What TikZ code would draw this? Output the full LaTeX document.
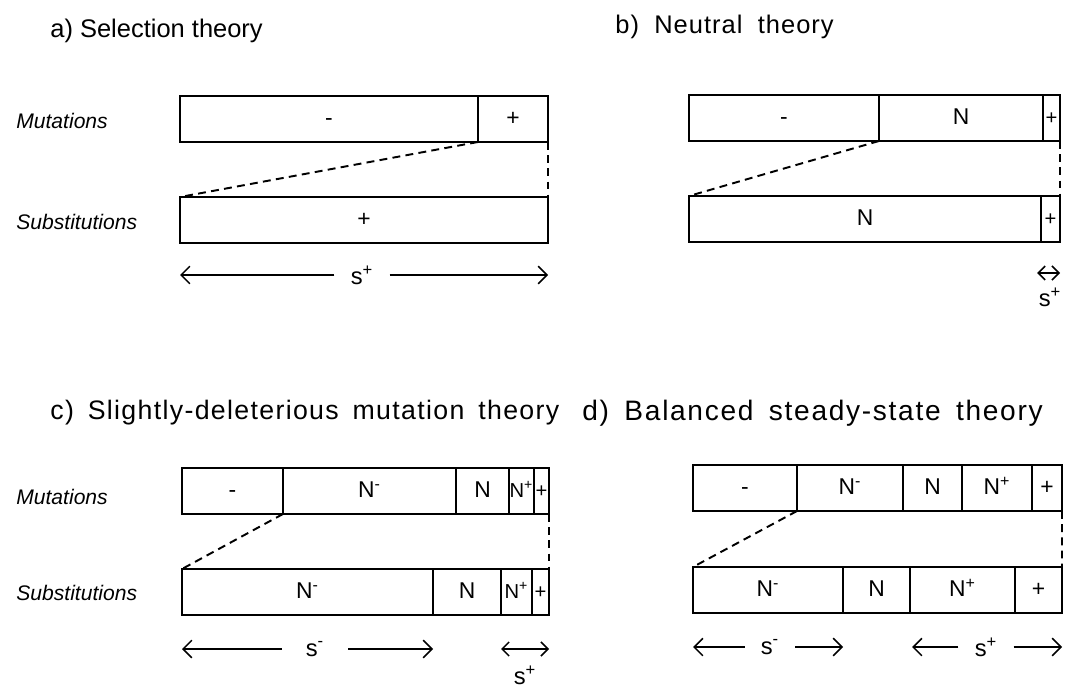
\documentclass[tikz,border=0pt]{standalone}
\usepackage{fontspec}
\setmainfont{Liberation Sans}
\usetikzlibrary{arrows.meta}

\tikzset{
  barbox/.style={draw, line width=1pt, inner sep=0pt, outer sep=0pt, anchor=north west,
    minimum height=0.92cm, text height=0.72em, text depth=0pt, font=\fontsize{13}{15}\selectfont},
  narrow/.style={font=\fontsize{11.5}{13}\selectfont},
  paneltitle/.style={anchor=west, inner sep=0pt, font=\fontsize{14.5}{17}\selectfont},
  rowlabel/.style={anchor=west, inner sep=0pt, font=\itshape\fontsize{12}{14}\selectfont},
  dashlink/.style={line width=1.1pt, dash pattern=on 4.5pt off 3pt},
  spanarrow/.style={line width=0.9pt, -{Straight Barb[length=5pt,width=10pt]}},
  twoway/.style={line width=0.9pt, {Straight Barb[length=4pt,width=8pt]}-{Straight Barb[length=4pt,width=8pt]}},
  slabel/.style={inner xsep=0.32cm, inner ysep=0pt, font=\fontsize{13.5}{15}\selectfont}
}
% one box of a bar: name, left x, right x, top y, text
\newcommand{\barseg}[6][]{\node[barbox, minimum width={(#4-#3)*0.02cm}, #1] (#2) at (#3,#5) {#6};}
\newcommand{\Nm}{N\textsuperscript{-}}
\newcommand{\Np}{N\textsuperscript{+}}
% wider tracking and word gaps for the titles
\newcommand{\spread}[2]{\addfontfeature{LetterSpace=#1}\spaceskip=#2\relax}

\begin{document}
\begin{tikzpicture}[x=0.02cm, y=-0.02cm]
  \useasboundingbox (0,0) rectangle (1068,689);
  % row labels
  \node[rowlabel] (mut-ab) at (16,121) {Mutations};
  \node[rowlabel] (sub-ab) at (16,222) {Substitutions};
  \node[rowlabel] (mut-cd) at (16,497) {Mutations};
  \node[rowlabel] (sub-cd) at (16,593) {Substitutions};

  % a) selection
  \node[paneltitle] (a-title) at (50,31) {a) Selection theory};
  \barseg{a-m1}{180}{478}{96}{-}
  \barseg{a-m2}{478}{548}{96}{+}
  \barseg{a-s1}{180}{548}{197}{+}
  \draw[dashlink] (a-m1.south east) -- (a-s1.north west);
  \draw[dashlink] (a-m2.south east) -- (a-s1.north east);
  \node[slabel] (a-s) at (362,275) {s\textsuperscript{+}};
  \coordinate (a-l) at (180,275);
  \coordinate (a-r) at (548,275);
  \draw[spanarrow] (a-s) -- (a-l);
  \draw[spanarrow] (a-s) -- (a-r);

  % b) neutral
  \node[paneltitle, font={\fontsize{14.5}{17}\selectfont\spread{4}{0.6em}}] (b-title) at (615,27) {b) Neutral theory};
  \barseg{b-m1}{689}{879}{95}{-}
  \barseg{b-m2}{879}{1043}{95}{N}
  \barseg[narrow]{b-m3}{1043}{1060}{95}{+}
  \barseg{b-s1}{689}{1041}{196}{N}
  \barseg[narrow]{b-s2}{1041}{1060}{196}{+}
  \draw[dashlink] (b-m1.south east) -- (b-s1.north west);
  \draw[dashlink] (b-m3.south east) -- (b-s2.north east);
  \coordinate (b-l) at (1037,273);
  \coordinate (b-r) at (1060,273);
  \draw[twoway] (b-l) -- (b-r);
  \node[slabel, inner xsep=0pt] (b-s) at (1050,297) {s\textsuperscript{+}};

  % c) slightly-deleterious
  \node[paneltitle, font={\fontsize{15.2}{18}\selectfont\spread{5}{0.52em}}] (c-title) at (50,413) {c) Slightly-deleterious mutation theory};
  \barseg{c-m1}{182}{283}{468}{-}
  \barseg{c-m2}{283}{456}{468}{\Nm}
  \barseg{c-m3}{456}{509}{468}{N}
  \barseg[narrow]{c-m4}{509}{534}{468}{\Np}
  \barseg[narrow]{c-m5}{534}{549}{468}{+}
  \barseg{c-s1}{182}{433}{569}{\Nm}
  \barseg{c-s2}{433}{501}{569}{N}
  \barseg[narrow]{c-s3}{501}{532}{569}{\Np}
  \barseg[narrow]{c-s4}{532}{549}{569}{+}
  \draw[dashlink] (c-m1.south east) -- (c-s1.north west);
  \draw[dashlink] (c-m5.south east) -- (c-s4.north east);
  \node[slabel, inner xsep=0.48cm] (c-sm) at (315,649) {s\textsuperscript{-}};
  \coordinate (c-l) at (182,649);
  \coordinate (c-r) at (433,649);
  \draw[spanarrow] (c-sm) -- (c-l);
  \draw[spanarrow] (c-sm) -- (c-r);
  \coordinate (c-pl) at (501,649);
  \coordinate (c-pr) at (549,649);
  \draw[twoway] (c-pl) -- (c-pr);
  \node[slabel, inner xsep=0pt] (c-sp) at (525,675) {s\textsuperscript{+}};

  % d) balanced steady-state
  \node[paneltitle, font={\fontsize{16}{19}\selectfont\spread{6}{0.55em}}] (d-title) at (582,413) {d) Balanced steady-state theory};
  \barseg{d-m1}{693}{797}{465}{-}
  \barseg{d-m2}{797}{903}{465}{\Nm}
  \barseg{d-m3}{903}{962}{465}{N}
  \barseg{d-m4}{962}{1032}{465}{\Np}
  \barseg{d-m5}{1032}{1062}{465}{+}
  \barseg{d-s1}{693}{843}{567}{\Nm}
  \barseg{d-s2}{843}{910}{567}{N}
  \barseg{d-s3}{910}{1015}{567}{\Np}
  \barseg{d-s4}{1015}{1062}{567}{+}
  \draw[dashlink] (d-m1.south east) -- (d-s1.north west);
  \draw[dashlink] (d-m5.south east) -- (d-s4.north east);
  \node[slabel] (d-sm) at (770,647) {s\textsuperscript{-}};
  \coordinate (d-l) at (693,647);
  \coordinate (d-r) at (843,647);
  \draw[spanarrow] (d-sm) -- (d-l);
  \draw[spanarrow] (d-sm) -- (d-r);
  \node[slabel] (d-sp) at (986,647) {s\textsuperscript{+}};
  \coordinate (d-pl) at (912,647);
  \coordinate (d-pr) at (1062,647);
  \draw[spanarrow] (d-sp) -- (d-pl);
  \draw[spanarrow] (d-sp) -- (d-pr);
\end{tikzpicture}
\end{document}
